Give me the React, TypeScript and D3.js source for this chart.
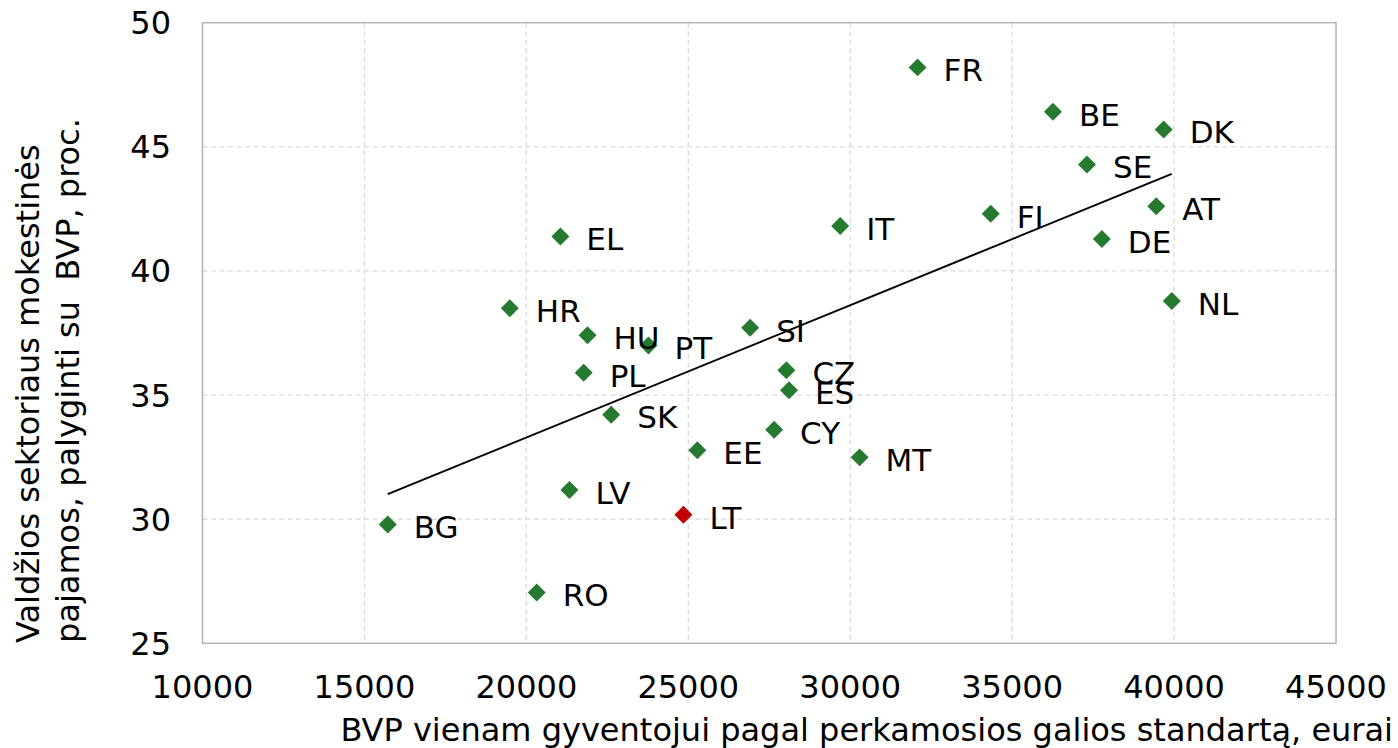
import React from "react";
import * as d3 from "d3";

const countries = ["BG","HR","RO","EL","LV","PL","HU","SK","PT","LT","EE","SI","CY","CZ","ES","IT","MT","FR","FI","BE","SE","DE","AT","DK","NL"];
const gdpPerCapita = [15720,19490,20320,21050,21330,21770,21890,22620,23770,24850,25280,26910,27650,28030,28110,29690,30290,32080,34340,36260,37310,37770,39450,39680,39930];
const taxRevenue = [29.79,38.5,27.05,41.39,31.18,35.9,37.41,34.21,37.0,30.18,32.78,37.71,33.6,36.0,35.19,41.81,32.49,48.2,42.3,46.41,44.29,41.29,42.61,45.7,38.79];
const highlighted = ["LT"];
const xTicks = [10000,15000,20000,25000,30000,35000,40000,45000];
const yTicks = [25,30,35,40,45,50];
const xTitle = "BVP vienam gyventojui pagal perkamosios galios standartą, eurai";
const yTitleLines = ["Valdžios sektoriaus mokestinės", "pajamos, palyginti su\u00a0 BVP, proc."];

const W = 1398, H = 748;
const FONT = "'DejaVu Sans', Verdana, sans-serif";
const FS = 32;

export default function App() {
  const x = d3.scaleLinear().domain([10000, 45000]).range([202.5, 1336]);
  const y = d3.scaleLinear().domain([25, 50]).range([643.3, 22.7]);
  const pts = countries.map((c, i) => ({ c, gx: gdpPerCapita[i], ty: taxRevenue[i] }));

  // least-squares trend line
  const mx = d3.mean(gdpPerCapita)!;
  const my = d3.mean(taxRevenue)!;
  const sxy = d3.sum(pts, p => (p.gx - mx) * (p.ty - my));
  const sxx = d3.sum(pts, p => (p.gx - mx) ** 2);
  const slope = sxy / sxx;
  const icpt = my - slope * mx;
  const [x0, x1] = d3.extent(gdpPerCapita) as [number, number];
  const trend = d3.line<number>().x(v => x(v)).y(v => y(icpt + slope * v))([x0, x1]);

  const diamond = d3.symbol(d3.symbolDiamond2, 206)()!;
  const [left, right] = x.range();
  const [bottom, top] = y.range();

  return (
    <svg width={W} height={H} style={{ position: "absolute", left: 0, top: 0, background: "#fff" }} fontFamily={FONT}>
      <rect x={0} y={0} width={W} height={H} fill="#fff" />
      {xTicks.slice(1, -1).map(t => (
        <line key={"gx" + t} x1={x(t)} x2={x(t)} y1={top} y2={bottom} stroke="#d9d9d9" strokeWidth={1.3} strokeDasharray="5,3.5" />
      ))}
      {yTicks.slice(1, -1).map(t => (
        <line key={"gy" + t} x1={left} x2={right} y1={y(t)} y2={y(t)} stroke="#d9d9d9" strokeWidth={1.3} strokeDasharray="5,3.5" />
      ))}
      <rect x={left} y={top} width={right - left} height={bottom - top} fill="none" stroke="#b3b3b3" strokeWidth={1.5} />
      {xTicks.map(t => (
        <text key={"tx" + t} x={x(t)} y={698} textAnchor="middle" fontSize={FS} fill="#000">{t}</text>
      ))}
      {yTicks.map(t => (
        <text key={"ty" + t} x={171} y={y(t) + 11.5} textAnchor="end" fontSize={FS} fill="#000">{t}</text>
      ))}
      <path d={trend!} fill="none" stroke="#000" strokeWidth={2} />
      {pts.map(p => (
        <path key={"m" + p.c} d={diamond} transform={`translate(${x(p.gx)},${y(p.ty)})`}
          fill={highlighted.includes(p.c) ? "#c00000" : "#267a30"} />
      ))}
      {pts.map(p => (
        <text key={"l" + p.c} x={x(p.gx) + 26} y={y(p.ty) + 13.8} fontSize={31} fill="#000">{p.c}</text>
      ))}
      <text x={1393} y={741} textAnchor="end" fontSize={FS} fill="#000">{xTitle}</text>
      {yTitleLines.map((l, i) => (
        <text key={"yt" + i} transform={`translate(${38.5 + i * 40},643) rotate(-90)`} textAnchor="start" fontSize={FS} fill="#000">{l}</text>
      ))}
    </svg>
  );
}
